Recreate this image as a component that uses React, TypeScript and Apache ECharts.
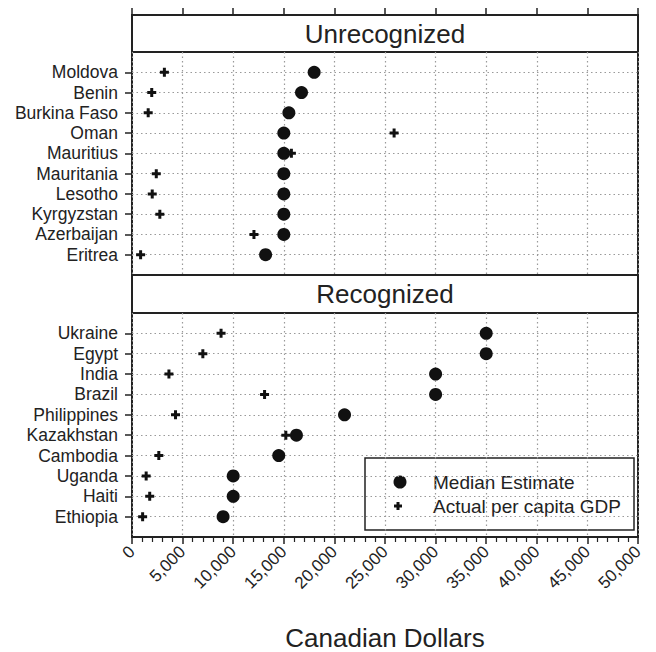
import React, { useEffect, useRef } from "react";
import * as echarts from "echarts";

const unrecCountries = ["Moldova", "Benin", "Burkina Faso", "Oman", "Mauritius", "Mauritania", "Lesotho", "Kyrgyzstan", "Azerbaijan", "Eritrea"];
const unrecMedian = [18000, 16750, 15500, 15000, 15000, 15000, 15000, 15000, 15000, 13200];
const unrecGdp = [3200, 1950, 1600, 25900, 15750, 2400, 2000, 2750, 12050, 850];

const recCountries = ["Ukraine", "Egypt", "India", "Brazil", "Philippines", "Kazakhstan", "Cambodia", "Uganda", "Haiti", "Ethiopia"];
const recMedian = [35000, 35000, 30000, 30000, 21000, 16250, 14500, 10000, 10000, 9000];
const recGdp = [8800, 7000, 3650, 13100, 4300, 15200, 2650, 1400, 1750, 1050];

const panelTitles = ["Unrecognized", "Recognized"];
const seriesNames = ["Median Estimate", "Actual per capita GDP"];
const xTitle = "Canadian Dollars";

const FONT = '"Liberation Sans", Arial, Helvetica, sans-serif';
const INK = "#222";
const PLUS = "path://M3,0h3v3h3v3h-3v3h-3v-3h-3v-3h3z";

export default function App() {
  const ref = useRef<HTMLDivElement>(null);
  useEffect(() => {
    if (!ref.current) return;
    const chart = echarts.init(ref.current, null, { renderer: "svg" });
    const L = 132, W = 506;
    const grids = [
      { left: L, top: 52, width: W, height: 223 },
      { left: L, top: 313, width: W, height: 224 },
    ];
    const gridLine = { show: true, lineStyle: { color: "#9a9a9a", type: [1.5, 3], width: 1.2 } };
    const yAxis = (names: string[], gi: number) => ({
      type: "value",
      gridIndex: gi,
      min: 0,
      max: 11,
      interval: 1,
      inverse: true,
      axisLine: { show: false, onZero: false },
      axisTick: { show: true, length: 7, customValues: names.map((_, i) => i + 1), lineStyle: { color: INK, width: 1.5 } },
      axisLabel: {
        show: true,
        margin: 14,
        customValues: names.map((_, i) => i + 1),
        formatter: (v: number) => names[Math.round(v) - 1] ?? "",
        color: INK,
        fontSize: 17.5,
        fontFamily: FONT,
      },
      splitLine: gridLine,
    });
    const fmt = (v: number) => v.toLocaleString("en-US");
    const option: any = {
      animation: false,
      backgroundColor: "#fff",
      grid: grids.map((g) => ({ ...g, show: true, borderColor: INK, borderWidth: 2, backgroundColor: "transparent" })),
      xAxis: [
        {
          type: "value",
          gridIndex: 0,
          position: "top",
          offset: 37,
          min: 0,
          max: 50000,
          interval: 5000,
          axisLine: { show: true, onZero: false, lineStyle: { color: INK, width: 2 } },
          axisTick: { show: true, length: 7, lineStyle: { color: INK, width: 1.5 } },
          axisLabel: { show: false },
          splitLine: gridLine,
        },
        {
          type: "value",
          gridIndex: 1,
          position: "bottom",
          min: 0,
          max: 50000,
          interval: 5000,
          name: xTitle,
          nameLocation: "middle",
          nameGap: 88,
          nameTextStyle: { fontSize: 26, color: INK, fontFamily: FONT },
          axisLine: { show: true, onZero: false, lineStyle: { color: INK, width: 2 } },
          axisTick: { show: true, length: 7, lineStyle: { color: INK, width: 1.5 } },
          minorTick: { show: true, splitNumber: 5, length: 5, lineStyle: { color: INK, width: 1.2 } },
          axisLabel: { show: true, rotate: 45, margin: 12, formatter: fmt, fontSize: 17, color: INK, fontFamily: FONT },
          splitLine: gridLine,
        },
      ],
      yAxis: [yAxis(unrecCountries, 0), yAxis(recCountries, 1)],
      series: [
        { name: seriesNames[0], type: "scatter", xAxisIndex: 0, yAxisIndex: 0, symbol: "circle", symbolSize: 13, itemStyle: { color: "#111", opacity: 1 }, data: unrecMedian.map((v, i) => [v, i + 1]) },
        { name: seriesNames[1], type: "scatter", xAxisIndex: 0, yAxisIndex: 0, symbol: PLUS, symbolSize: 9, itemStyle: { color: "#111", opacity: 1 }, data: unrecGdp.map((v, i) => [v, i + 1]) },
        { name: seriesNames[0], type: "scatter", xAxisIndex: 1, yAxisIndex: 1, symbol: "circle", symbolSize: 13, itemStyle: { color: "#111", opacity: 1 }, data: recMedian.map((v, i) => [v, i + 1]) },
        { name: seriesNames[1], type: "scatter", xAxisIndex: 1, yAxisIndex: 1, symbol: PLUS, symbolSize: 9, itemStyle: { color: "#111", opacity: 1 }, data: recGdp.map((v, i) => [v, i + 1]) },
      ],
      graphic: [
        { type: "rect", shape: { x: L, y: 15, width: W, height: 37 }, style: { fill: "#fff", stroke: INK, lineWidth: 2 } },
        { type: "text", x: L + W / 2, y: 34, style: { text: panelTitles[0], font: `26px ${FONT}`, fill: INK, align: "center", verticalAlign: "middle" } },
        { type: "rect", shape: { x: L, y: 275, width: W, height: 38 }, style: { fill: "#fff", stroke: INK, lineWidth: 2 } },
        { type: "text", x: L + W / 2, y: 294, style: { text: panelTitles[1], font: `26px ${FONT}`, fill: INK, align: "center", verticalAlign: "middle" } },
        { type: "rect", shape: { x: 365, y: 458, width: 269, height: 72 }, style: { fill: "#fff", stroke: INK, lineWidth: 1.5 } },
        { type: "circle", shape: { cx: 400, cy: 482, r: 6.5 }, style: { fill: "#111" } },
        { type: "rect", shape: { x: 396.5, y: 502, width: 3, height: 8 }, style: { fill: "#111" } },
        { type: "rect", shape: { x: 394, y: 504.5, width: 8, height: 3 }, style: { fill: "#111" } },
        { type: "text", x: 433, y: 482, style: { text: seriesNames[0], font: `19px ${FONT}`, fill: INK, align: "left", verticalAlign: "middle" } },
        { type: "text", x: 433, y: 506, style: { text: seriesNames[1], font: `19px ${FONT}`, fill: INK, align: "left", verticalAlign: "middle" } },
      ],
    };
    chart.setOption(option);
    return () => chart.dispose();
  }, []);
  return <div ref={ref} style={{ position: "fixed", left: 0, top: 0, width: 656, height: 652 }} />;
}
